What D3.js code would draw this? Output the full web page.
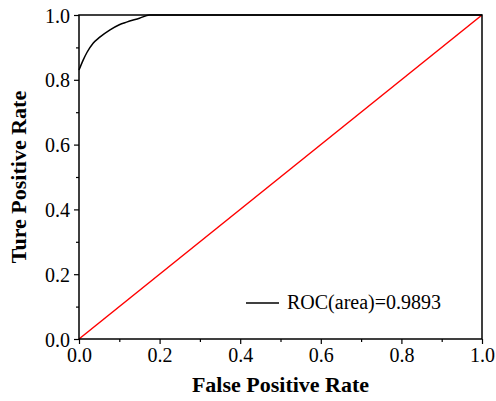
<!DOCTYPE html>
<html><head><meta charset="utf-8">
<script src="https://cdn.jsdelivr.net/npm/d3@7"></script>
</head><body style="margin:0;background:#fff">
<svg id="c" width="496" height="401" style="font-family:'Liberation Serif',serif"></svg>
<script>
const fpr = [0, 0.01, 0.02, 0.035, 0.05, 0.077, 0.1, 0.118, 0.15, 0.175, 1.0];
const tpr = [0.83, 0.86, 0.885, 0.913, 0.93, 0.954, 0.97, 0.978, 0.99, 1.0, 1.0];
const diag = [[0,0],[1,1]];
const ticks = [0, 0.2, 0.4, 0.6, 0.8, 1.0];
const minorTicks = [0.1, 0.3, 0.5, 0.7, 0.9];
const legendLabel = "ROC(area)=0.9893";

const svg = d3.select("#c");
const m = {l:79, r:482, t:15, b:339};
const x = d3.scaleLinear().domain([0,1]).range([m.l, m.r]);
const y = d3.scaleLinear().domain([0,1]).range([m.b, m.t]);

svg.append("path").datum(diag)
  .attr("d", d3.line().x(d=>x(d[0])).y(d=>y(d[1])))
  .attr("stroke","#ff0000").attr("stroke-width",1.5).attr("fill","none");
svg.append("path").datum(fpr.map((f,i)=>[f,tpr[i]]))
  .attr("d", d3.line().x(d=>x(d[0])).y(d=>y(d[1])).curve(d3.curveMonotoneX))
  .attr("stroke","#000").attr("stroke-width",1.5).attr("fill","none");

svg.append("rect").attr("x",m.l).attr("y",m.t).attr("width",m.r-m.l).attr("height",m.b-m.t)
  .attr("fill","none").attr("stroke","#000").attr("stroke-width",1.5);

function styleAxis(g){
  g.attr("font-family", "Liberation Serif");
  g.select(".domain").remove();
  g.selectAll("line").attr("stroke","#000").attr("stroke-width",1.2);
  g.selectAll("text").attr("font-family","Liberation Serif").attr("font-size",20).attr("fill","#000");
}
const xa = svg.append("g").attr("transform",`translate(0,${m.b})`)
  .call(d3.axisBottom(x).tickValues(ticks).tickFormat(d3.format(".1f")).tickSize(5).tickPadding(4));
styleAxis(xa);
const xm = svg.append("g").attr("transform",`translate(0,${m.b})`)
  .call(d3.axisBottom(x).tickValues(minorTicks).tickFormat("").tickSize(3));
styleAxis(xm);
const ya = svg.append("g").attr("transform",`translate(${m.l},0)`)
  .call(d3.axisLeft(y).tickValues(ticks).tickFormat(d3.format(".1f")).tickSize(5).tickPadding(4));
styleAxis(ya);
ya.selectAll("text").attr("dy","0.35em");
const ym = svg.append("g").attr("transform",`translate(${m.l},0)`)
  .call(d3.axisLeft(y).tickValues(minorTicks).tickFormat("").tickSize(3));
styleAxis(ym);

svg.append("text").attr("x",(m.l+m.r)/2).attr("y",392).attr("text-anchor","middle")
  .attr("font-family","Liberation Serif").attr("font-weight","bold").attr("font-size",22).text("False Positive Rate");
svg.append("text").attr("transform",`translate(26,${(m.t+m.b)/2}) rotate(-90)`).attr("text-anchor","middle")
  .attr("font-family","Liberation Serif").attr("font-weight","bold").attr("font-size",22).text("Ture Positive Rate");

svg.append("line").attr("x1",246).attr("x2",279).attr("y1",303).attr("y2",303)
  .attr("stroke","#000").attr("stroke-width",1.5);
svg.append("text").attr("x",287).attr("y",309).attr("font-family","Liberation Serif").attr("font-size",20).text(legendLabel);
</script>
</body></html>
